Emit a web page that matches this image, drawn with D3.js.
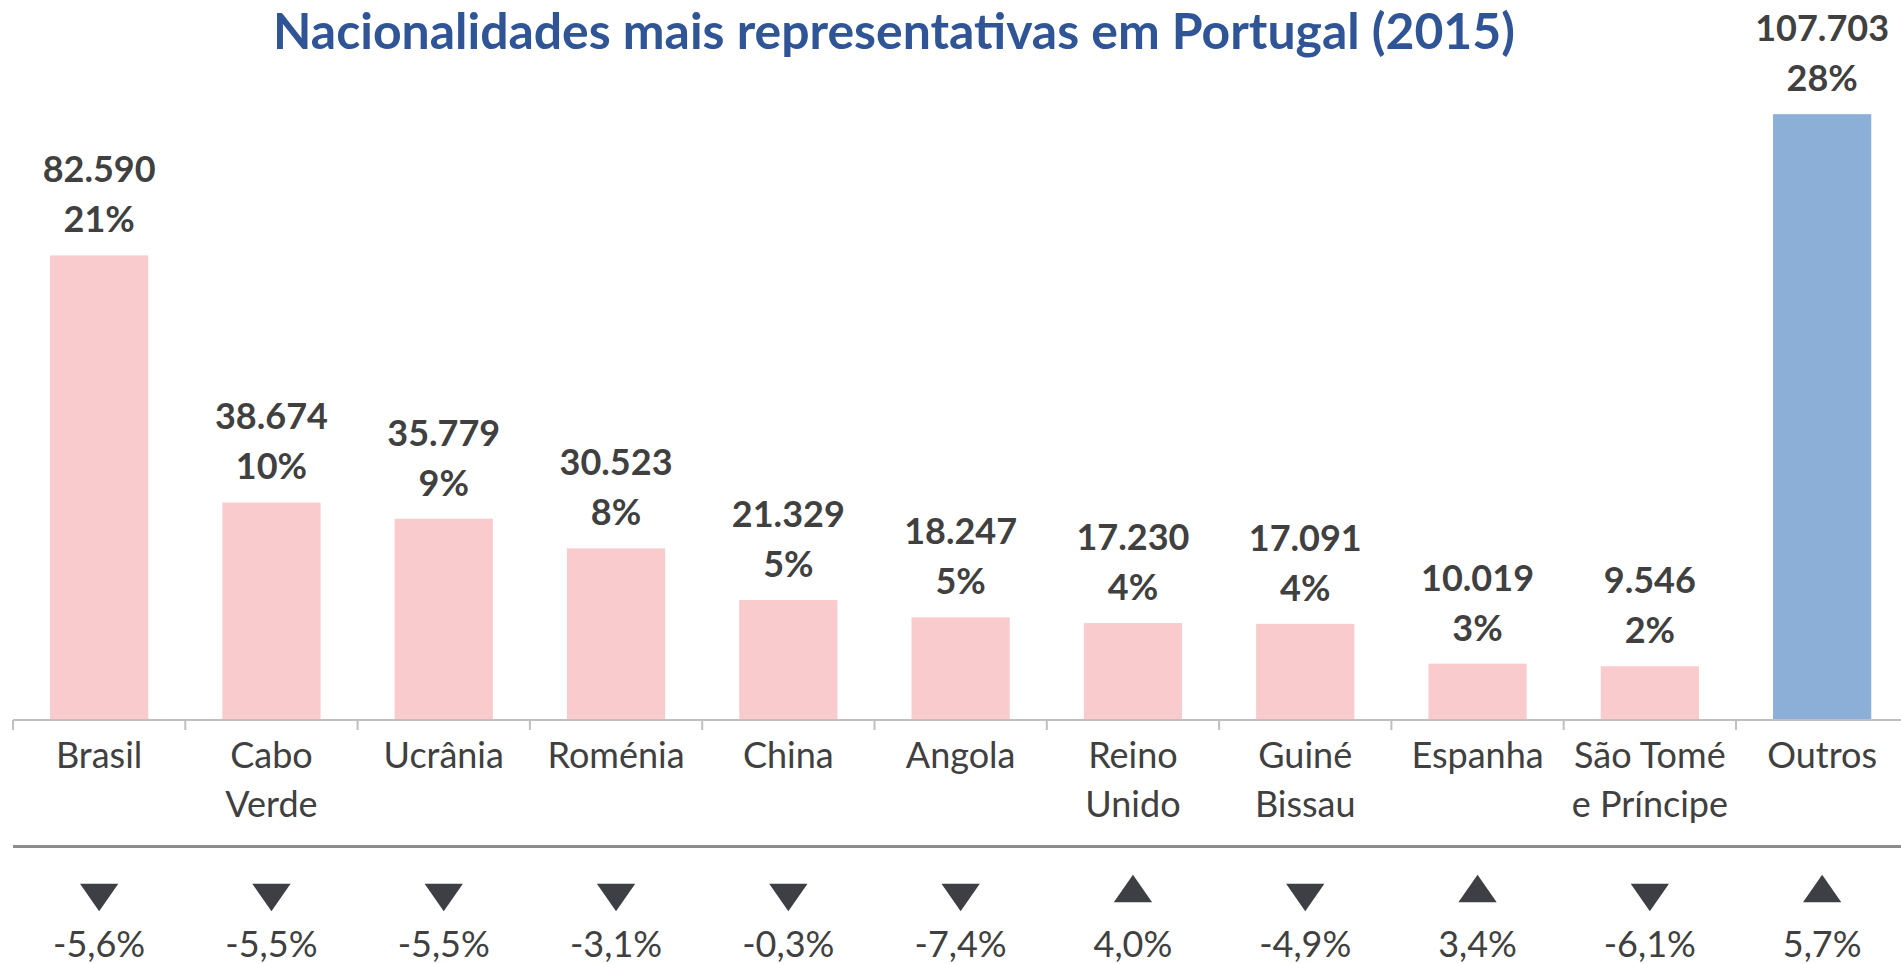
<!DOCTYPE html>
<html>
<head>
<meta charset="utf-8">
<script src="https://cdn.jsdelivr.net/npm/d3@7"></script>
<style>
  body { margin: 0; background: #fff; }
  text { font-family: Lato, "Open Sans", sans-serif; fill: #404040; }
</style>
</head>
<body>
<script>
const w = 1901;
const h = 964;

// data
const categories = ["Brasil", "Cabo Verde", "Ucrânia", "Roménia", "China", "Angola",
                    "Reino Unido", "Guiné Bissau", "Espanha", "São Tomé e Príncipe", "Outros"];
const catLines = [["Brasil"], ["Cabo", "Verde"], ["Ucrânia"], ["Roménia"], ["China"], ["Angola"],
                  ["Reino", "Unido"], ["Guiné", "Bissau"], ["Espanha"], ["São Tomé", "e Príncipe"], ["Outros"]];
const values = [82590, 38674, 35779, 30523, 21329, 18247, 17230, 17091, 10019, 9546, 107703];
const shares = ["21%", "10%", "9%", "8%", "5%", "5%", "4%", "4%", "3%", "2%", "28%"];
const changes = [-5.6, -5.5, -5.5, -3.1, -0.3, -7.4, 4.0, -4.9, 3.4, -6.1, 5.7];

const axisY = 720;
const x0 = 13;
const step = 172.3;

const fmtVal = d => d3.format(",")(d).replace(/,/g, ".");
const fmtChg = d => d3.format(".1f")(d).replace(".", ",").replace("\u2212", "-") + "%";

const xScale = d3.scaleBand()
    .domain(categories)
    .range([x0, x0 + step * categories.length])
    .paddingInner(0.43)
    .paddingOuter(0.215);

const yScale = d3.scaleLinear()
    .domain([0, 128000])
    .range([axisY, 0]);

const svg = d3.select("body")
    .append("svg")
    .attr("width", w)
    .attr("height", h);

// title
const title = svg.append("text")
    .attr("x", 894)
    .attr("y", 42)
    .attr("text-anchor", "middle")
    .style("font-size", "47px")
    .style("font-weight", "bold")
    .style("fill", "#2F5597")
    .text("Nacionalidades mais representativas em Portugal (2015)");
// fit the title to the width it has in the picture
const tl = title.node().getComputedTextLength();
title.style("font-size", (47 * 1242 / tl) + "px");
// keep the text box inside the page
const tb = title.node().getBBox();
if (tb.y < 0) title.attr("y", 42 - tb.y);

// bars
svg.append("g")
    .selectAll("rect")
    .data(values)
    .join("rect")
        .attr("x", (d, i) => xScale(categories[i]))
        .attr("y", d => yScale(d))
        .attr("width", xScale.bandwidth())
        .attr("height", d => axisY - yScale(d))
        .attr("fill", (d, i) => i === values.length - 1 ? "#8BAFD6" : "#F9CBCD");

// value + share labels
const labels = svg.append("g")
    .style("font-size", "36px")
    .style("font-weight", "bold")
    .attr("text-anchor", "middle");

labels.selectAll(".val")
    .data(values)
    .join("text")
        .attr("class", "val")
        .attr("x", (d, i) => xScale(categories[i]) + xScale.bandwidth() / 2)
        .attr("y", d => yScale(d) - 73)
        .text(d => fmtVal(d));

labels.selectAll(".pct")
    .data(shares)
    .join("text")
        .attr("class", "pct")
        .attr("x", (d, i) => xScale(categories[i]) + xScale.bandwidth() / 2)
        .attr("y", (d, i) => yScale(values[i]) - 23)
        .text(d => d);

// category axis
const xAxis = d3.axisBottom(xScale).tickSize(0).tickFormat("");
const gx = svg.append("g")
    .attr("transform", `translate(0, ${axisY})`)
    .call(xAxis);
gx.select(".domain").remove();

gx.append("line")
    .attr("x1", x0)
    .attr("x2", w)
    .attr("stroke", "#BFBFBF")
    .attr("stroke-width", 2);

gx.selectAll(".sep")
    .data(d3.range(categories.length))
    .join("line")
        .attr("class", "sep")
        .attr("x1", i => xScale.step() * i + x0)
        .attr("x2", i => xScale.step() * i + x0)
        .attr("y1", 0)
        .attr("y2", 10)
        .attr("stroke", "#BFBFBF")
        .attr("stroke-width", 2);

const catG = svg.append("g")
    .style("font-size", "36px")
    .attr("text-anchor", "middle");

catG.selectAll("text")
    .data(catLines)
    .join("text")
        .attr("x", (d, i) => xScale(categories[i]) + xScale.bandwidth() / 2)
        .attr("y", 768)
        .each(function(lines) {
            const t = d3.select(this);
            lines.forEach((l, k) => {
                t.append("tspan")
                    .attr("x", t.attr("x"))
                    .attr("dy", k === 0 ? 0 : 49)
                    .text(l);
            });
        });

// separator line
svg.append("line")
    .attr("x1", x0)
    .attr("x2", w)
    .attr("y1", 846.5)
    .attr("y2", 846.5)
    .attr("stroke", "#8C8C8C")
    .attr("stroke-width", 3);

// change arrows
const tri = d3.symbol().type(d3.symbolTriangle).size(480);
svg.append("g")
    .selectAll("path")
    .data(changes)
    .join("path")
        .attr("d", tri)
        .attr("transform", (d, i) => {
            const cx = xScale(categories[i]) + xScale.bandwidth() / 2;
            return `translate(${cx}, 893) scale(1.15, 0.95) rotate(${d < 0 ? 180 : 0})`;
        })
        .attr("fill", "#3D3F45");

svg.append("g")
    .style("font-size", "36px")
    .attr("text-anchor", "middle")
    .selectAll("text")
    .data(changes)
    .join("text")
        .attr("x", (d, i) => xScale(categories[i]) + xScale.bandwidth() / 2)
        .attr("y", 957)
        .text(d => fmtChg(d));
</script>
</body>
</html>
